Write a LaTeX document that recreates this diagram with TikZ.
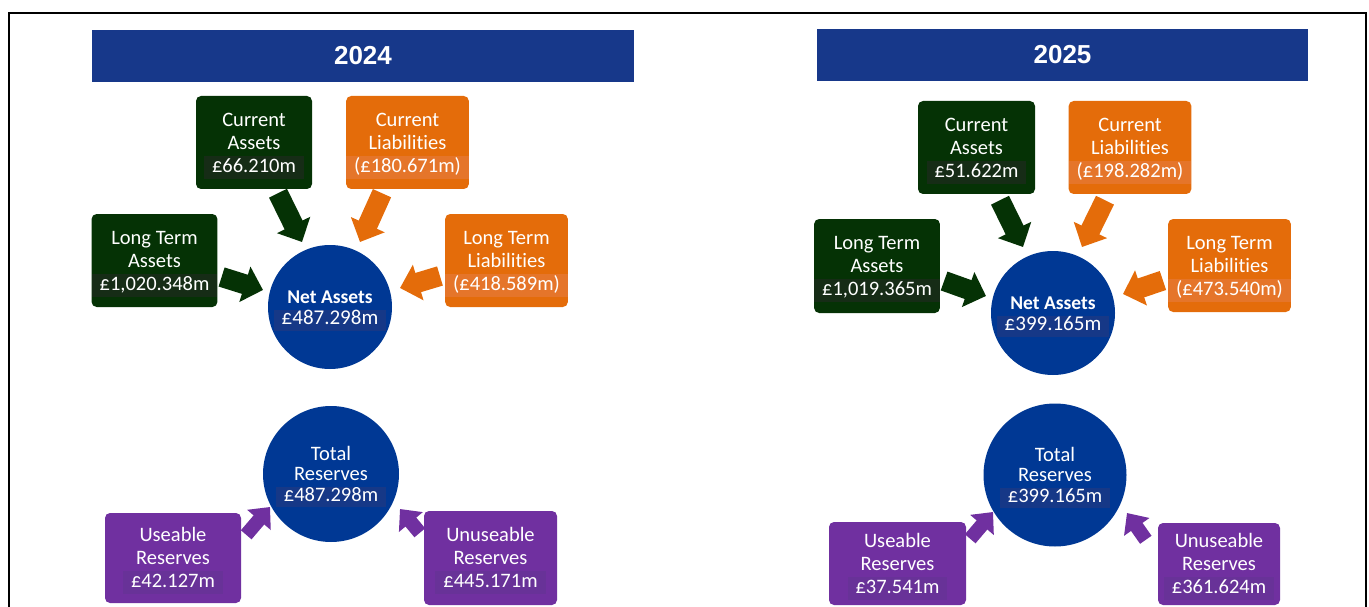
\documentclass[tikz,border=0pt]{standalone}
\usepackage{fontspec}
\setmainfont{Carlito}[Ligatures=NoCommon]
\newfontfamily\hdrfont{Liberation Sans}
\usetikzlibrary{arrows.meta}
\definecolor{hdr}{RGB}{23,56,138}
\definecolor{grn}{RGB}{5,50,5}
\definecolor{grnhl}{RGB}{22,44,22}
\definecolor{org}{RGB}{228,108,10}
\definecolor{orghl}{RGB}{229,117,42}
\definecolor{cblue}{RGB}{0,56,148}
\definecolor{cbluehl}{RGB}{22,56,135}
\definecolor{pur}{RGB}{112,48,160}
\definecolor{purhl}{RGB}{104,50,152}
\newcommand\hlv[2]{{\setlength\fboxsep{0pt}\colorbox{#1}{\strut\hspace{8pt}#2\hspace{8pt}}}}
\newcommand\bx[4]{\rule{0pt}{20pt}#1\\#2\\\hlv{#3}{#4}}
\newcommand\boxfont{\fontsize{20.5}{23}\selectfont}
\tikzset{
  frame/.style={draw=black, line width=2pt},
  hdrbox/.style={rectangle, fill=hdr, inner sep=0pt, text=white, font=\hdrfont\bfseries\fontsize{26}{30}\selectfont},
  box/.style={rectangle, rounded corners=5pt, inner sep=0pt, text=white, align=center, font=\boxfont},
  gbox/.style={box, fill=grn},
  obox/.style={box, fill=org},
  pbox/.style={box, fill=pur},
  ncirc/.style={circle, fill=cblue, inner sep=0pt, text=white, align=center, font=\fontsize{21}{21}\selectfont},
  tcirc/.style={circle, fill=cblue, inner sep=0pt, text=white, align=center, font=\fontsize{20.5}{20.5}\selectfont},
  bigarrow/.style={line width=20pt, -{Triangle[width=36pt,length=19pt]}},
  garrow/.style={bigarrow, draw=grn},
  oarrow/.style={bigarrow, draw=org},
  parrow/.style={draw=pur, line width=14pt, -{Triangle[width=30pt,length=17pt]}}
}
\begin{document}
\begin{tikzpicture}[x=1pt,y=-1pt]
\useasboundingbox (0,0) rectangle (1369,607);
\draw[frame] (9,609) -- (9,13) -- (1366,13) -- (1366,609);

% ---------- 2024 ----------
\node[hdrbox, minimum width=542pt, minimum height=52pt] (h24) at (363,56) {2024};
\node[gbox, minimum width=116pt, minimum height=93pt] (ca24) at (254,142.5) {\bx{Current}{Assets}{grnhl}{£66.210m}};
\node[obox, minimum width=117pt, minimum height=93pt] (cl24) at (407.5,142.5) {\bx{Current}{Liabilities}{orghl}{(£180.671m)}};
\node[gbox, minimum width=117pt, minimum height=93pt] (lta24) at (154.5,260.5) {\bx{Long Term}{Assets}{grnhl}{£1,020.348m}};
\node[obox, minimum width=117pt, minimum height=93pt] (ltl24) at (506.5,260.5) {\bx{Long Term}{Liabilities}{orghl}{(£418.589m)}};
\node[ncirc, minimum size=124pt] (na24) at (330,307) {\rule{0pt}{20.7pt}{\fontsize{19.5}{21}\selectfont\bfseries Net Assets}\\\hlv{cbluehl}{£487.298m}};
\node[tcirc, minimum size=136pt] (tr24) at (331,474) {\rule{0pt}{19.5pt}Total\\Reserves\\\hlv{cbluehl}{£487.298m}};
\node[pbox, minimum width=136pt, minimum height=90pt] (ur24) at (173,558) {\bx{Useable}{Reserves}{purhl}{£42.127m}};
\node[pbox, minimum width=133pt, minimum height=94pt] (uu24) at (490.5,558) {\bx{Unuseable}{Reserves}{purhl}{£445.171m}};

\draw[garrow] ([shift={(24,4)}]ca24.south) -- ([shift={(-28,-65)}]na24.center);
\draw[oarrow] ([shift={(-25.5,4)}]cl24.south) -- ([shift={(30,-65)}]na24.center);
\draw[garrow] ([shift={(4,16.5)}]lta24.east) -- ([shift={(-67,-17)}]na24.center);
\draw[oarrow] ([shift={(-5,15.5)}]ltl24.west) -- ([shift={(70,-19)}]na24.center);
\draw[parrow] ([shift={(5,22)}]ur24.north east) -- ([shift={(-61,33)}]tr24.center);
\draw[parrow] ([shift={(-4,22)}]uu24.north west) -- ([shift={(69,35)}]tr24.center);

% ---------- 2025 ----------
\node[hdrbox, minimum width=491pt, minimum height=52pt] (h25) at (1062.5,55) {2025};
\node[gbox, minimum width=117pt, minimum height=93pt] (ca25) at (976.5,147.5) {\bx{Current}{Assets}{grnhl}{£51.622m}};
\node[obox, minimum width=118pt, minimum height=93pt] (cl25) at (1130,147.5) {\bx{Current}{Liabilities}{orghl}{(£198.282m)}};
\node[gbox, minimum width=118pt, minimum height=94pt] (lta25) at (877,266) {\bx{Long Term}{Assets}{grnhl}{£1,019.365m}};
\node[obox, minimum width=117pt, minimum height=93pt] (ltl25) at (1229.5,265.5) {\bx{Long Term}{Liabilities}{orghl}{(£473.540m)}};
\node[ncirc, minimum size=124pt] (na25) at (1053,313) {\rule{0pt}{20.7pt}{\fontsize{19.5}{21}\selectfont\bfseries Net Assets}\\\hlv{cbluehl}{£399.165m}};
\node[tcirc, minimum size=143pt] (tr25) at (1055,475) {\rule{0pt}{19.5pt}Total\\Reserves\\\hlv{cbluehl}{£399.165m}};
\node[pbox, minimum width=137pt, minimum height=83pt] (ur25) at (897.5,563.5) {\bx{Useable}{Reserves}{purhl}{£37.541m}};
\node[pbox, minimum width=122pt, minimum height=82pt] (uu25) at (1219,564) {\bx{Unuseable}{Reserves}{purhl}{£361.624m}};

\draw[garrow] ([shift={(23.5,6)}]ca25.south) -- ([shift={(-30,-66)}]na25.center);
\draw[oarrow] ([shift={(-25,6)}]cl25.south) -- ([shift={(29,-66)}]na25.center);
\draw[garrow] ([shift={(4,15)}]lta25.east) -- ([shift={(-67,-17)}]na25.center);
\draw[oarrow] ([shift={(-5,15)}]ltl25.west) -- ([shift={(70,-19)}]na25.center);
\draw[parrow] ([shift={(4,17)}]ur25.north east) -- ([shift={(-62,37)}]tr25.center);
\draw[parrow] ([shift={(-12,17)}]uu25.north west) -- ([shift={(72,38)}]tr25.center);
\end{tikzpicture}
\end{document}
